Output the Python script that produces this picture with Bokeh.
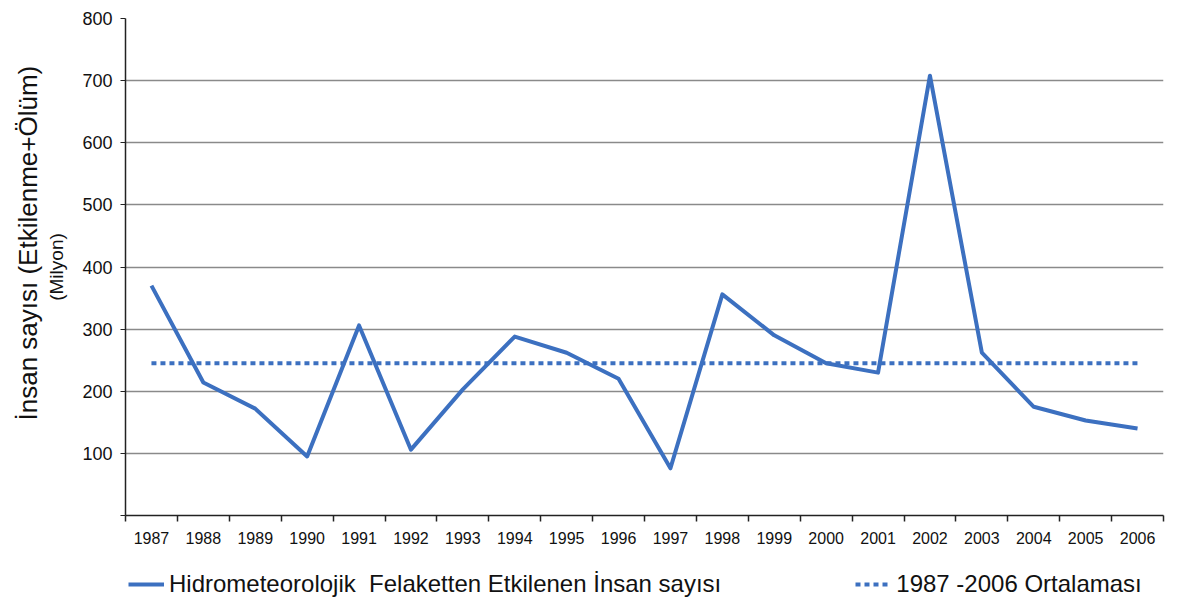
from bokeh.plotting import figure
from bokeh.layouts import column
from bokeh.models import FixedTicker, Title, Legend, LegendItem, Range1d
from bokeh.embed import file_html
from bokeh.resources import INLINE

years = ["1987", "1988", "1989", "1990", "1991", "1992", "1993", "1994", "1995", "1996",
         "1997", "1998", "1999", "2000", "2001", "2002", "2003", "2004", "2005", "2006"]
tick_labels = ["1987", "1988", "1989", "1990", "1991", "1992", "1993", "1994", "1995", "1996",
               "1997", "1998", "1999", "2000", "2001", "2002", "2003", "2004", "2005", "2006"]
affected = [370, 214, 172, 95, 306, 106, 203, 288, 262, 220,
            76, 356, 290, 245, 230, 708, 262, 175, 153, 140]
average = 245
y_ticks = [0, 100, 200, 300, 400, 500, 600, 700, 800]

series_name = "Hidrometeorolojik  Felaketten Etkilenen İnsan sayısı"
avg_name = "1987 -2006 Ortalaması"

BLUE = "#3c70c0"
FONT = "Liberation Sans"
NAN = float("nan")

xs = [i + 0.5 for i in range(len(years))]

p = figure(frame_width=1038, frame_height=497, output_backend="svg", toolbar_location=None,
           x_range=Range1d(0, len(years)), y_range=Range1d(0, 800),
           min_border_left=125, min_border_right=23, min_border_top=18, min_border_bottom=45)
p.outline_line_color = None
p.background_fill_color = "white"

line_style = dict(line_color=BLUE, line_width=4, line_join="round")
dash_style = dict(line_color=BLUE, line_width=4, line_dash="5 4")

p.line(xs, affected, **line_style)
p.line([xs[0], xs[-1]], [average, average], **dash_style)

# x axis: labels at category centres, ticks at boundaries
p.xaxis.ticker = FixedTicker(ticks=xs, minor_ticks=list(range(len(years) + 1)))
p.xaxis.major_label_overrides = {x: lab for x, lab in zip(xs, tick_labels)}
p.xaxis.major_tick_out = 0
p.xaxis.major_tick_in = 0
p.xaxis.minor_tick_out = 6
p.xaxis.minor_tick_in = 0
p.xaxis.minor_tick_line_color = "#222222"
p.xaxis.minor_tick_line_width = 1.5
p.xaxis.axis_line_color = "#222222"
p.xaxis.axis_line_width = 1.5
p.xaxis.major_label_text_font = FONT
p.xaxis.major_label_text_font_size = "16px"
p.xaxis.major_label_text_color = "#111111"
p.xaxis.major_label_standoff = 10

# y axis
p.yaxis.ticker = FixedTicker(ticks=y_ticks)
p.yaxis.major_label_overrides = {0: ""}
p.yaxis.major_tick_out = 5
p.yaxis.major_tick_in = 0
p.yaxis.minor_tick_line_color = None
p.yaxis.axis_line_color = "#222222"
p.yaxis.axis_line_width = 1.5
p.yaxis.major_tick_line_color = "#222222"
p.yaxis.major_label_text_font = FONT
p.yaxis.major_label_text_font_size = "18px"
p.yaxis.major_label_text_color = "#111111"
p.yaxis.major_label_standoff = 8
p.yaxis.axis_label = "(Milyon)"
p.yaxis.axis_label_text_font = FONT
p.yaxis.axis_label_text_font_size = "19px"
p.yaxis.axis_label_text_font_style = "normal"
p.yaxis.axis_label_text_color = "#111111"
p.yaxis.axis_label_standoff = 12

p.add_layout(Title(text="İnsan sayısı (Etkilenme+Ölüm)", align="left", offset=95,
                   text_font=FONT, text_font_size="26px", text_font_style="normal",
                   text_color="#111111", standoff=2), "left")

p.xgrid.grid_line_color = None
p.ygrid.ticker = FixedTicker(ticks=y_ticks[1:])
p.ygrid.grid_line_color = "#8a8a8a"
p.ygrid.grid_line_width = 1.5

# legend strip below the chart (swatch renderers hold no visible points)
lg = figure(width=1186, height=42, output_backend="svg", toolbar_location=None,
            x_axis_location=None, y_axis_location=None,
            x_range=Range1d(0, 1), y_range=Range1d(0, 1), min_border=0)
lg.outline_line_color = None
lg.grid.grid_line_color = None
k1 = lg.line([NAN, NAN], [NAN, NAN], **line_style)
k2 = lg.line([NAN, NAN], [NAN, NAN], **dash_style)

legend = Legend(items=[LegendItem(label=series_name, renderers=[k1]),
                       LegendItem(label=avg_name, renderers=[k2])],
                orientation="horizontal", location=(3, 4),
                glyph_width=36, spacing=134, padding=4, margin=0,
                label_text_font=FONT, label_text_font_size="24px",
                label_text_color="#111111", border_line_color=None,
                background_fill_alpha=0,
                label_standoff=5)
lg.add_layout(legend, "center")

layout = column(p, lg, spacing=0)
open("out.html", "w").write(file_html(layout, INLINE))
